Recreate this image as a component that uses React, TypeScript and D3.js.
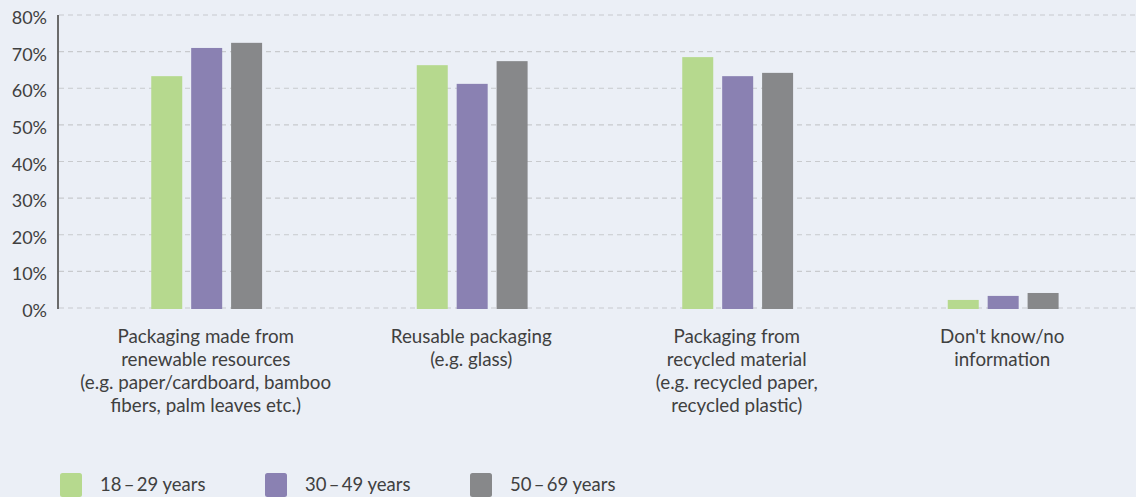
import React from "react";
import * as d3 from "d3";

const categories: string[][] = [
  ["Packaging made from", "renewable resources", "(e.g. paper/cardboard, bamboo", "fibers, palm leaves etc.)"],
  ["Reusable packaging", "(e.g. glass)"],
  ["Packaging from", "recycled material", "(e.g. recycled paper,", "recycled plastic)"],
  ["Don't know/no", "information"],
];
const seriesNames = ["18\u2009\u2013\u200929 years", "30\u2009\u2013\u200949 years", "50\u2009\u2013\u200969 years"];
const age18_29 = [63.3, 66.3, 68.5, 2.2];
const age30_49 = [71.0, 61.2, 63.3, 3.3];
const age50_69 = [72.4, 67.4, 64.2, 4.1];
const yTicks = [0, 10, 20, 30, 40, 50, 60, 70, 80];

const colors = ["#b6d98e", "#8a81b2", "#87888a"];
const W = 1136;
const H = 497;
const FONT = "Lato, 'Open Sans', sans-serif";
const TEXT = "#404040";

export default function App() {
  const series = [age18_29, age30_49, age50_69];
  const idx = categories.map((_, i) => String(i));
  const x = d3.scaleBand<string>().domain(idx).range([73, 1135]);
  const xInner = d3.scaleBand<number>().domain([0, 1, 2]).range([0, 109]).paddingInner(0.27);
  const y = d3.scaleLinear().domain([0, 80]).range([308, 15]);
  const bw = 31;

  return (
    <svg width={W} height={H} style={{ position: "absolute", left: 0, top: 0, background: "#ebeff6" }} fontFamily={FONT}>
      <rect x={0} y={0} width={W} height={H} fill="#ebeff6" />
      {yTicks.map((t) => (
        <g key={t}>
          <line x1={59} x2={W} y1={y(t)} y2={y(t)} stroke="#c8cacd" strokeWidth={1.2} strokeDasharray="5,4" />
          <text x={47} y={y(t) + 9} textAnchor="end" fontSize={18} fill={TEXT}>{t + "%"}</text>
        </g>
      ))}
      <line x1={58} x2={58} y1={y(80)} y2={y(0) + 1} stroke="#6b6b6b" strokeWidth={2} />
      {idx.map((c, i) => {
        const cx = (x(c) as number) + x.bandwidth() / 2;
        const start = cx - 54.5;
        return (
          <g key={c}>
            {series.map((s, j) => (
              <rect
                key={j}
                x={start + (xInner(j) as number)}
                y={y(s[i])}
                width={bw}
                height={y(0) - y(s[i]) + 1}
                fill={colors[j]}
              />
            ))}
            {categories[i].map((line, k) => (
              <text key={k} x={cx} y={343 + k * 23} textAnchor="middle" fontSize={18.8} fill={TEXT}>{line}</text>
            ))}
          </g>
        );
      })}
      {seriesNames.map((n, j) => (
        <g key={n} transform={`translate(${60 + j * 205},473)`}>
          <rect x={0} y={0} width={22} height={24} rx={2.5} fill={colors[j]} />
          <text x={40} y={18} fontSize={18.5} fill={TEXT}>{n}</text>
        </g>
      ))}
    </svg>
  );
}
